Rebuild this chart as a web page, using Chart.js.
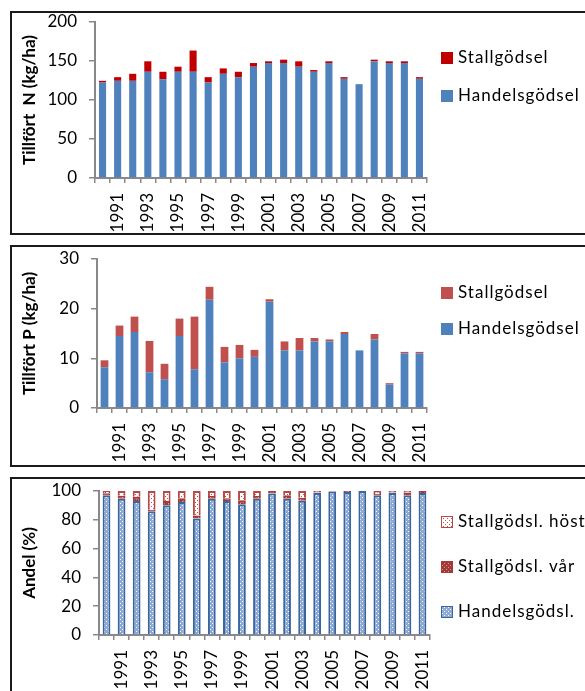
<!DOCTYPE html>
<html>
<head>
<meta charset="utf-8">
<script src="https://cdn.jsdelivr.net/npm/chart.js"></script>
<style>
    html, body { margin: 0; padding: 0; background: #fff; overflow: hidden; }
    body { width: 585px; height: 691px; position: relative; }
    .panel { position: absolute; left: 10px; width: 600px; border: 2px solid #1a1a1a; box-sizing: border-box; }
    .panel canvas { display: block; }
</style>
</head>
<body>
<div class="panel" id="p1" style="top: 11px; height: 224px;"><canvas id="chartN"></canvas></div>
<div class="panel" id="p2" style="top: 245px; height: 222px;"><canvas id="chartP"></canvas></div>
<div class="panel" id="p3" style="top: 477px; height: 232px;"><canvas id="chartAndel"></canvas></div>
<script>
const years = ['1990', '1991', '1992', '1993', '1994', '1995', '1996', '1997', '1998', '1999', '2000',
    '2001', '2002', '2003', '2004', '2005', '2006', '2007', '2008', '2009', '2010', '2011'];

// Tillfört N (kg/ha)
const nHandel = [122.4, 124.6, 124.6, 136.2, 126.7, 136.2, 136.2, 122.4, 133.6, 129.3, 142.7,
    147.4, 147.4, 142.7, 136.2, 147.4, 127.2, 120.3, 149.6, 147.4, 147.4, 127.2];
const nStall = [2.2, 4.7, 9.0, 13.4, 9.5, 6.5, 27.2, 6.9, 6.9, 6.9, 4.7,
    2.2, 4.3, 6.9, 2.2, 2.2, 2.1, 0, 2.1, 2.2, 2.2, 2.1];

// Tillfört P (kg/ha)
const pHandel = [8.2, 14.5, 15.3, 7.2, 5.8, 14.5, 7.8, 21.8, 9.2, 10.0, 10.3,
    21.4, 11.6, 11.6, 13.4, 13.4, 14.9, 11.6, 13.8, 4.7, 11.0, 11.0];
const pStall = [1.4, 2.1, 3.1, 6.3, 3.1, 3.5, 10.6, 2.6, 3.1, 2.7, 1.4,
    0.5, 1.8, 2.5, 0.7, 0.4, 0.4, 0, 1.1, 0.3, 0.3, 0.3];

// Andel (%)
const andelHandel = [97.0, 94.7, 93.1, 86.0, 90.1, 92.4, 80.9, 94.7, 93.1, 90.8, 94.7,
    98.2, 94.7, 93.3, 98.6, 99.6, 99.3, 100, 97.0, 98.6, 97.0, 98.6];
const andelVar = [1.5, 2.0, 2.9, 1.0, 3.0, 2.6, 2.0, 1.8, 1.9, 2.7, 1.8,
    1.8, 2.3, 2.0, 0.4, 0.4, 0.7, 0, 1.0, 0.4, 2.0, 1.4];
const andelHost = [1.5, 3.3, 4.0, 13.0, 6.9, 5.0, 17.1, 3.5, 5.0, 6.5, 3.5,
    0, 3.0, 4.7, 1.0, 0, 0, 0, 2.0, 1.0, 1.0, 0];

const tickFont = { family: 'Lato', size: 17 };
const titleFont = { family: 'Lato', size: 17, weight: 'bold' };
const axisGray = '#898989';

function makePattern(bg, fg, dots) {
    const c = document.createElement('canvas');
    c.width = 4;
    c.height = 4;
    const g = c.getContext('2d');
    g.fillStyle = bg;
    g.fillRect(0, 0, 4, 4);
    g.fillStyle = fg;
    dots.forEach(d => g.fillRect(d[0], d[1], 1, 1));
    return g.createPattern(c, 'repeat');
}

// legend drawn on the right side of each panel, last dataset on top
const panelLegend = {
    id: 'panelLegend',
    afterDraw(chart, args, opts) {
        const ctx = chart.ctx;
        const items = chart.data.datasets.slice().reverse();
        ctx.save();
        ctx.font = opts.font;
        ctx.letterSpacing = '1px';
        ctx.textBaseline = 'middle';
        ctx.textAlign = 'left';
        items.forEach((ds, i) => {
            const y = opts.top + i * opts.gap;
            ctx.fillStyle = ds.backgroundColor;
            ctx.fillRect(opts.x, y - 6, 12, 12);
            if (ds.borderWidth) {
                ctx.strokeStyle = ds.borderColor;
                ctx.lineWidth = 1;
                ctx.strokeRect(opts.x + 0.5, y - 5.5, 11, 11);
            }
            ctx.fillStyle = '#000';
            ctx.fillText(ds.label, opts.x + 17, y);
        });
        ctx.restore();
    }
};

function buildOptions(cfg) {
    return {
        responsive: true,
        maintainAspectRatio: false,
        animation: false,
        layout: { padding: { top: cfg.top, right: cfg.right, left: 0, bottom: 0 } },
        plugins: {
            legend: { display: false },
            tooltip: { enabled: false },
            panelLegend: { x: 429, top: cfg.legendTop, gap: cfg.legendGap, font: '17px Lato' }
        },
        scales: {
            x: {
                stacked: true,
                afterFit: (scale) => { scale.height = cfg.xHeight; },
                border: { display: true, color: axisGray, width: 2 },
                grid: { display: true, drawOnChartArea: false, drawTicks: true, tickLength: 5, color: axisGray, lineWidth: 1.5, offset: true },
                ticks: {
                    autoSkip: false,
                    minRotation: 90,
                    maxRotation: 90,
                    padding: 10,
                    color: '#000',
                    font: tickFont,
                    callback: function (value, index) {
                        const label = this.getLabelForValue(value);
                        return Number(label) % 2 === 1 ? label : '';
                    }
                }
            },
            y: {
                stacked: true,
                min: 0,
                max: cfg.max,
                afterFit: (scale) => {
                    scale.width = cfg.yWidth;
                    scale.paddingTop = 0;
                    scale.paddingBottom = 0;
                },
                border: { display: true, color: axisGray, width: 2 },
                grid: { display: true, drawOnChartArea: false, drawTicks: true, tickLength: 6, color: axisGray, lineWidth: 1.5 },
                ticks: { stepSize: cfg.step, padding: 12, color: '#000', font: tickFont },
                title: { display: true, text: cfg.title, color: '#000', font: titleFont, padding: { top: 7, bottom: 0 } }
            }
        }
    };
}

new Chart(document.getElementById('chartN'), {
    type: 'bar',
    data: {
        labels: years,
        datasets: [
            { label: 'Handelsgödsel', data: nHandel, backgroundColor: '#4F81BD', barPercentage: 0.5, categoryPercentage: 0.94 },
            { label: 'Stallgödsel', data: nStall, backgroundColor: '#C00000', barPercentage: 0.5, categoryPercentage: 0.94 }
        ]
    },
    options: buildOptions({ top: 9, right: 181, xHeight: 55, yWidth: 83, max: 200, step: 50, title: 'Tillfört  N (kg/ha)', legendTop: 45, legendGap: 38 }),
    plugins: [panelLegend]
});

new Chart(document.getElementById('chartP'), {
    type: 'bar',
    data: {
        labels: years,
        datasets: [
            { label: 'Handelsgödsel', data: pHandel, backgroundColor: '#4F81BD', barPercentage: 0.55, categoryPercentage: 0.94 },
            { label: 'Stallgödsel', data: pStall, backgroundColor: '#C0504D', barPercentage: 0.55, categoryPercentage: 0.94 }
        ]
    },
    options: buildOptions({ top: 12, right: 181, xHeight: 57, yWidth: 85, max: 30, step: 10, title: 'Tillfört P (kg/ha)', legendTop: 46, legendGap: 36 }),
    plugins: [panelLegend]
});

const handelPattern = makePattern('#8eaad3', '#ffffff', [[0, 0], [2, 2]]);
const varPattern = makePattern('#a33a37', '#d99694', [[0, 0], [2, 2]]);
const hostPattern = makePattern('#ffffff', '#c0504d', [[1, 1], [3, 3]]);

new Chart(document.getElementById('chartAndel'), {
    type: 'bar',
    data: {
        labels: years,
        datasets: [
            { label: 'Handelsgödsl.', data: andelHandel, backgroundColor: handelPattern, borderColor: '#3a66a0', borderWidth: 2, barPercentage: 0.55, categoryPercentage: 0.94 },
            { label: 'Stallgödsl. vår', data: andelVar, backgroundColor: varPattern, borderColor: '#a33a37', borderWidth: 2, barPercentage: 0.55, categoryPercentage: 0.94 },
            { label: 'Stallgödsl. höst', data: andelHost, backgroundColor: hostPattern, borderColor: '#b94743', borderWidth: 2, barPercentage: 0.55, categoryPercentage: 0.94 }
        ]
    },
    options: buildOptions({ top: 12, right: 178, xHeight: 72, yWidth: 87, max: 100, step: 20, title: 'Andel (%)', legendTop: 43, legendGap: 45 }),
    plugins: [panelLegend]
});
</script>
</body>
</html>
